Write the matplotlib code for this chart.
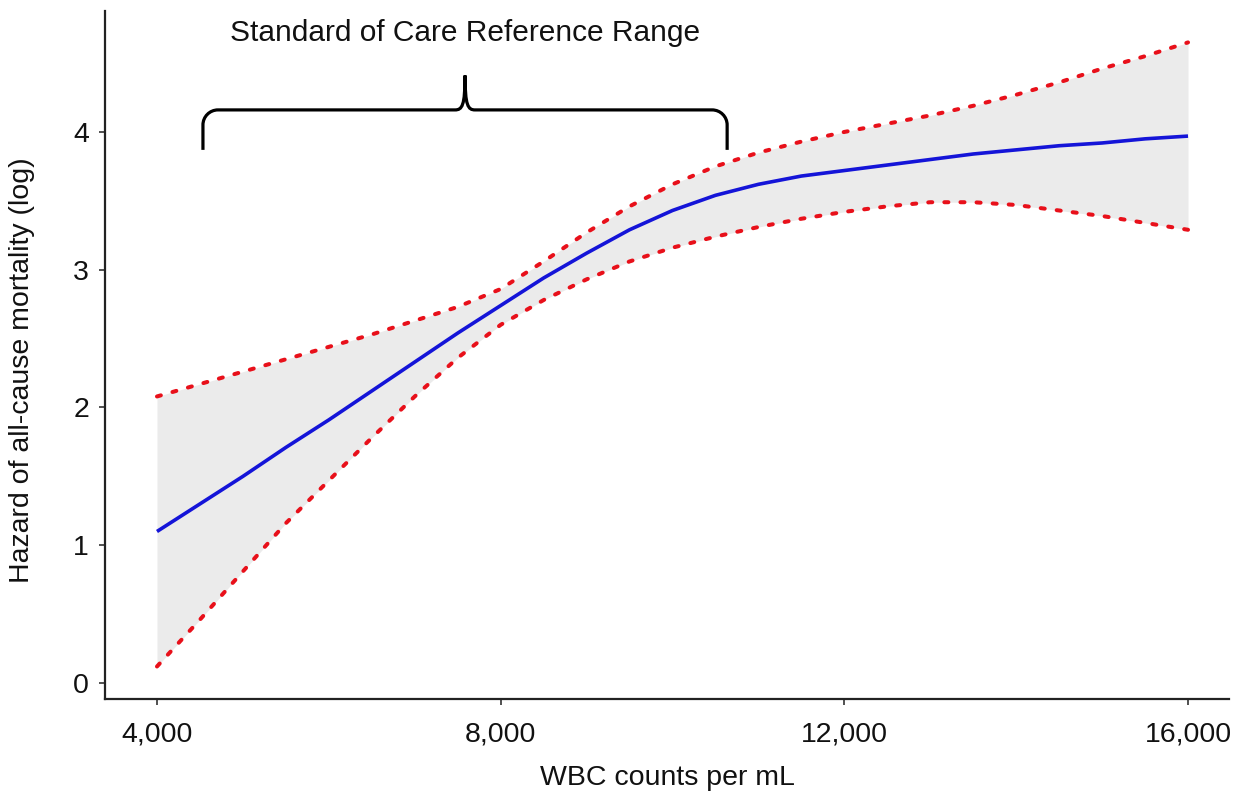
import matplotlib
matplotlib.use("Agg")
import matplotlib.pyplot as plt
from matplotlib.path import Path
from matplotlib.patches import PathPatch
from matplotlib.ticker import FuncFormatter

plt.rcParams['font.family'] = ['Liberation Sans', 'DejaVu Sans']

# ---- data ----
wbc = [4000, 4500, 5000, 5500, 6000, 6500, 7000, 7500, 8000, 8500, 9000, 9500,
       10000, 10500, 11000, 11500, 12000, 12500, 13000, 13500, 14000, 14500,
       15000, 15500, 16000]
hazard = [1.10, 1.30, 1.50, 1.71, 1.91, 2.12, 2.33, 2.54, 2.74, 2.94, 3.12, 3.29,
          3.43, 3.54, 3.62, 3.68, 3.72, 3.76, 3.80, 3.84, 3.87, 3.90,
          3.92, 3.95, 3.97]
upper = [2.08, 2.17, 2.26, 2.35, 2.44, 2.53, 2.63, 2.73, 2.86, 3.06, 3.27, 3.46,
         3.62, 3.75, 3.85, 3.93, 4.00, 4.06, 4.12, 4.19, 4.27, 4.36,
         4.46, 4.55, 4.65]
lower = [0.12, 0.46, 0.81, 1.16, 1.47, 1.78, 2.08, 2.36, 2.60, 2.78, 2.93, 3.06,
         3.16, 3.24, 3.31, 3.37, 3.42, 3.46, 3.49, 3.49, 3.47, 3.43,
         3.39, 3.34, 3.29]
x_ticks = [4000, 8000, 12000, 16000]
y_ticks = [0, 1, 2, 3, 4]
ref_range = (4535, 10636)
ref_label = "Standard of Care Reference Range"

fig = plt.figure(figsize=(12.51, 7.94), dpi=100)
ax = fig.add_axes([105/1251, 1-699/794, (1229-105)/1251, (699-11)/794])

ax.fill_between(wbc, lower, upper, color='#ebebeb', lw=0, zorder=1)
ax.plot(wbc, upper, color='#e8101a', lw=2.9, dashes=(1.0, 3.0),
        dash_capstyle='round', zorder=3)
ax.plot(wbc, lower, color='#e8101a', lw=2.9, dashes=(1.0, 3.0),
        dash_capstyle='round', zorder=3)
ax.plot(wbc, hazard, color='#1414d8', lw=2.6, zorder=4, solid_capstyle='butt',
        solid_joinstyle='round')

ax.set_xlim(3395, 16477)
ax.set_ylim(-0.116, 4.878)
ax.set_xticks(x_ticks)
ax.set_yticks(y_ticks)
ax.xaxis.set_major_formatter(FuncFormatter(lambda v, p: f"{int(v):,}"))

for s in ['top', 'right']:
    ax.spines[s].set_visible(False)
for s in ['left', 'bottom']:
    ax.spines[s].set_linewidth(1.6)
    ax.spines[s].set_color('#222222')
ax.tick_params(axis='both', length=4.5, width=1.2, color='#333333',
               labelsize=20.5, labelcolor='#111111')
ax.tick_params(axis='x', pad=12)
ax.tick_params(axis='y', pad=7)

ax.set_xlabel("WBC counts per mL", fontsize=20.5, color='#111111', labelpad=12)
ax.set_ylabel("Hazard of all-cause mortality (log)", fontsize=20.5,
              color='#111111')
ax.yaxis.set_label_coords(-0.0625, 0.478)

# ---- brace annotation ----
px_x = 1000/85.9
px_y = 1/137.75
X0, X1 = ref_range
Xm = (X0 + X1) / 2
y_h = 4.16
y_end = 3.87
y_tip = 4.41
rx, ry = 15*px_x, 15*px_y
tw = 10*px_x
verts = [
    (X0, y_end), (X0, y_h - ry),
    (X0, y_h - ry*0.45), (X0 + rx*0.45, y_h), (X0 + rx, y_h),
    (Xm - tw, y_h),
    (Xm - tw*0.3, y_h), (Xm, y_h + 0.03), (Xm, y_tip),
    (Xm, y_h + 0.03), (Xm + tw*0.3, y_h), (Xm + tw, y_h),
    (X1 - rx, y_h),
    (X1 - rx*0.45, y_h), (X1, y_h - ry*0.45), (X1, y_h - ry),
    (X1, y_end),
]
codes = [Path.MOVETO, Path.LINETO,
         Path.CURVE4, Path.CURVE4, Path.CURVE4,
         Path.LINETO,
         Path.CURVE4, Path.CURVE4, Path.CURVE4,
         Path.CURVE4, Path.CURVE4, Path.CURVE4,
         Path.LINETO,
         Path.CURVE4, Path.CURVE4, Path.CURVE4,
         Path.LINETO]
ax.add_patch(PathPatch(Path(verts, codes), fill=False, lw=2.3, color='black',
                       capstyle='butt', zorder=5))
ax.text(Xm, 4.72, ref_label, ha='center', va='center', fontsize=21.5,
        color='#111111')

fig.savefig("out.png", dpi=100)
